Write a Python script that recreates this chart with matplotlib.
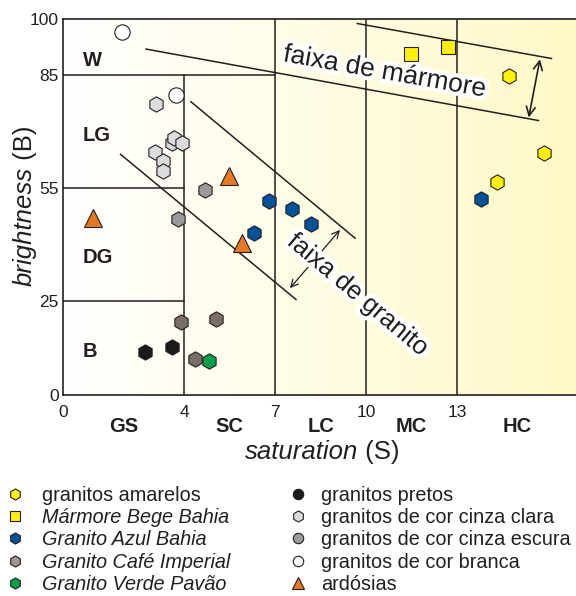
import numpy as np
import matplotlib.pyplot as plt
import matplotlib.patheffects as pe
from matplotlib.lines import Line2D

plt.rcParams['font.family'] = ['Liberation Sans', 'DejaVu Sans']

# class boundaries and labels
sat_ticks = [0, 4, 7, 10, 13]
bri_ticks = [0, 25, 55, 85, 100]
sat_classes = ['GS', 'SC', 'LC', 'MC', 'HC']
sat_class_pos = [2, 5.5, 8.5, 11.5, 15]
bri_classes = ['W', 'LG', 'DG', 'B']
bri_class_pos = [89, 69, 36.5, 11.5]

# samples (saturation, brightness)
amarelos_s = [14.72, 15.87, 14.31]
amarelos_b = [84.8, 64.4, 56.7]
bege_s = [11.50, 12.71]
bege_b = [90.7, 92.5]
azul_s = [6.79, 7.56, 6.30, 8.17, 13.78]
azul_b = [51.7, 49.5, 43.2, 45.5, 52.0]
cafe_s = [3.88, 5.05, 4.36]
cafe_b = [19.5, 20.2, 9.6]
verde_s = [4.81]
verde_b = [9.0]
pretos_s = [2.70, 3.60]
pretos_b = [11.5, 12.7]
clara_s = [3.06, 3.04, 3.31, 3.31, 3.61, 3.67, 3.93]
clara_b = [77.3, 64.7, 62.2, 59.7, 66.9, 68.4, 67.1]
escura_s = [4.69, 3.81]
escura_b = [54.5, 46.8]
branca_s = [1.94, 3.73]
branca_b = [96.5, 79.8]
ardosia_s = [0.98, 5.49, 5.90]
ardosia_b = [47.0, 58.2, 40.5]

# marble / granite bands
marmore_sup_s, marmore_sup_b = [9.71, 16.12], [98.8, 89.5]
marmore_inf_s, marmore_inf_b = [2.74, 15.69], [92.0, 73.0]
granito_sup_s, granito_sup_b = [4.22, 9.64], [78.0, 41.7]
granito_inf_s, granito_inf_b = [1.90, 7.69], [64.0, 25.4]

W, H = 576, 596
fig = plt.figure(figsize=(W / 100, H / 100), dpi=100)
xmax = 16.93
ax = fig.add_axes([63 / W, 1 - 395 / H, (W - 63) / W, 376 / H])
ax.set_xlim(0, xmax)
ax.set_ylim(0, 100)

# background gradient white -> light yellow
grad = np.linspace(0, 1, 256)
c0 = np.array([1.0, 1.0, 1.0])
c1 = np.array([255, 249, 200]) / 255
img = c0[None, :] + (c1 - c0)[None, :] * grad[:, None]
ax.imshow(img[None, :, :], extent=[0, xmax, 0, 100], aspect='auto', zorder=0)

lc = '#231f20'
for sp in ['left', 'bottom', 'top']:
    ax.spines[sp].set_linewidth(1.2)
    ax.spines[sp].set_color(lc)
ax.spines['right'].set_visible(False)

# class grid
ax.plot([0, 7], [85, 85], color=lc, lw=1.1, zorder=1)
ax.plot([0, 4], [55, 55], color=lc, lw=1.1, zorder=1)
ax.plot([0, 4], [25, 25], color=lc, lw=1.1, zorder=1)
ax.plot([4, 4], [0, 85], color=lc, lw=1.1, zorder=1)
for v in [7, 10, 13]:
    ax.plot([v, v], [0, 100], color=lc, lw=1.1, zorder=1)

ax.set_xticks(sat_ticks)
ax.set_yticks(bri_ticks)
ax.tick_params(length=0, labelsize=12.5, colors='#231f20')
ax.tick_params(axis='x', pad=7)
ax.tick_params(axis='y', pad=3)

for lab, x in zip(sat_classes, sat_class_pos):
    ax.text(x, -0.085, lab, transform=ax.get_xaxis_transform(), ha='center',
            va='center', fontsize=14.5, fontweight='bold', color='#231f20')
for lab, y in zip(bri_classes, bri_class_pos):
    ax.text(0.65, y, lab, ha='left', va='center', fontsize=14.5,
            fontweight='bold', color='#231f20', zorder=2)

# axis titles (italic word + normal symbol)
ax.text(0.575, -0.152, 'saturation', transform=ax.transAxes, ha='right',
        va='center', fontsize=18.5, style='italic', color='#231f20')
ax.text(0.575, -0.152, ' (S)', transform=ax.transAxes, ha='left',
        va='center', fontsize=18.5, color='#231f20')
ax.text(-0.074, 0.606, 'brightness', transform=ax.transAxes, ha='center',
        va='top', rotation=90, fontsize=18.5, style='italic', color='#231f20')
ax.text(-0.074, 0.606, ' (B)', transform=ax.transAxes, ha='center',
        va='bottom', rotation=90, fontsize=18.5, color='#231f20')

# band lines
halo = [pe.withStroke(linewidth=6, foreground='white')]
ax.plot(marmore_sup_s, marmore_sup_b, color=lc, lw=1.1, zorder=3)
ax.plot(marmore_inf_s, marmore_inf_b, color=lc, lw=1.1, zorder=3)
ax.plot(granito_sup_s, granito_sup_b, color=lc, lw=1.1, zorder=3)
ax.plot(granito_inf_s, granito_inf_b, color=lc, lw=1.1, zorder=3)
ax.annotate('', xy=(15.74, 89.3), xytext=(15.37, 73.8),
            arrowprops=dict(arrowstyle='<->', color=lc, lw=1.2,
                            shrinkA=0, shrinkB=0, mutation_scale=16), zorder=3)
ax.annotate('', xy=(9.14, 43.9), xytext=(7.49, 28.4),
            arrowprops=dict(arrowstyle='<->', color=lc, lw=0.9,
                            shrinkA=0, shrinkB=0, mutation_scale=13), zorder=3)
ax.text(10.62, 85.9, 'faixa de mármore', rotation=-10, rotation_mode='anchor',
        ha='center', va='center', fontsize=19, color='#231f20',
        path_effects=halo, zorder=4)
ax.text(9.74, 26.6, 'faixa de granito', rotation=-40, rotation_mode='anchor',
        ha='center', va='center', fontsize=18.5, color='#231f20',
        path_effects=halo, zorder=4)

# samples
mk = dict(linestyle='none', markeredgecolor=lc, markeredgewidth=0.8, zorder=5)
ax.plot(amarelos_s, amarelos_b, 'h', ms=11, color='#fff200', **mk)
ax.plot(bege_s, bege_b, 's', ms=10.5, color='#fff200', **mk)
ax.plot(azul_s, azul_b, 'h', ms=11, color='#00529b', **mk)
ax.plot(cafe_s, cafe_b, 'h', ms=11, color='#7a6e6a', **mk)
ax.plot(pretos_s, pretos_b, 'h', ms=11, color='#1a1a1a', **mk)
ax.plot(verde_s, verde_b, 'h', ms=11, color='#00a04b', **mk)
ax.plot(clara_s, clara_b, 'h', ms=11, color='#dcdcdc', **mk)
ax.plot(escura_s, escura_b, 'h', ms=11, color='#9a9a9a', **mk)
ax.plot(branca_s, branca_b, 'o', ms=11, color='white', **mk)
ax.plot(ardosia_s, ardosia_b, '^', ms=12.5, color='#e87722', **mk)

# legend
def h(marker, color, ms=8):
    return Line2D([], [], marker=marker, ms=ms, color=color, linestyle='none',
                  markeredgecolor=lc, markeredgewidth=0.8)

left_handles = [h('h', '#fff200'), h('s', '#fff200', 7.5), h('h', '#00529b'),
                h('h', '#a09590'), h('h', '#00a04b')]
left_labels = ['granitos amarelos', 'Mármore Bege Bahia', 'Granito Azul Bahia',
               'Granito Café Imperial', 'Granito Verde Pavão']
right_handles = [h('o', '#1a1a1a', 7.5), h('h', '#dcdcdc'), h('o', '#9a9a9a', 7.5),
                 h('o', 'white', 7.5), h('^', '#e87722', 9)]
right_labels = ['granitos pretos', 'granitos de cor cinza clara',
                'granitos de cor cinza escura', 'granitos de cor branca',
                'ardósias']

leg_top = 1 - 486 / H
leg1 = fig.legend(left_handles, left_labels, loc='upper left',
                  bbox_to_anchor=(4.7 / W, leg_top), frameon=False,
                  fontsize=14.3, handlelength=1.0, handletextpad=0.88,
                  labelspacing=0.16, borderpad=0, borderaxespad=0)
for t in leg1.get_texts()[1:]:
    t.set_style('italic')
leg2 = fig.legend(right_handles, right_labels, loc='upper left',
                  bbox_to_anchor=(287.7 / W, leg_top), frameon=False,
                  fontsize=14.3, handlelength=1.0, handletextpad=0.69,
                  labelspacing=0.16, borderpad=0, borderaxespad=0)
for t in leg1.get_texts() + leg2.get_texts():
    t.set_color('#231f20')

fig.savefig('out.png', dpi=100)
